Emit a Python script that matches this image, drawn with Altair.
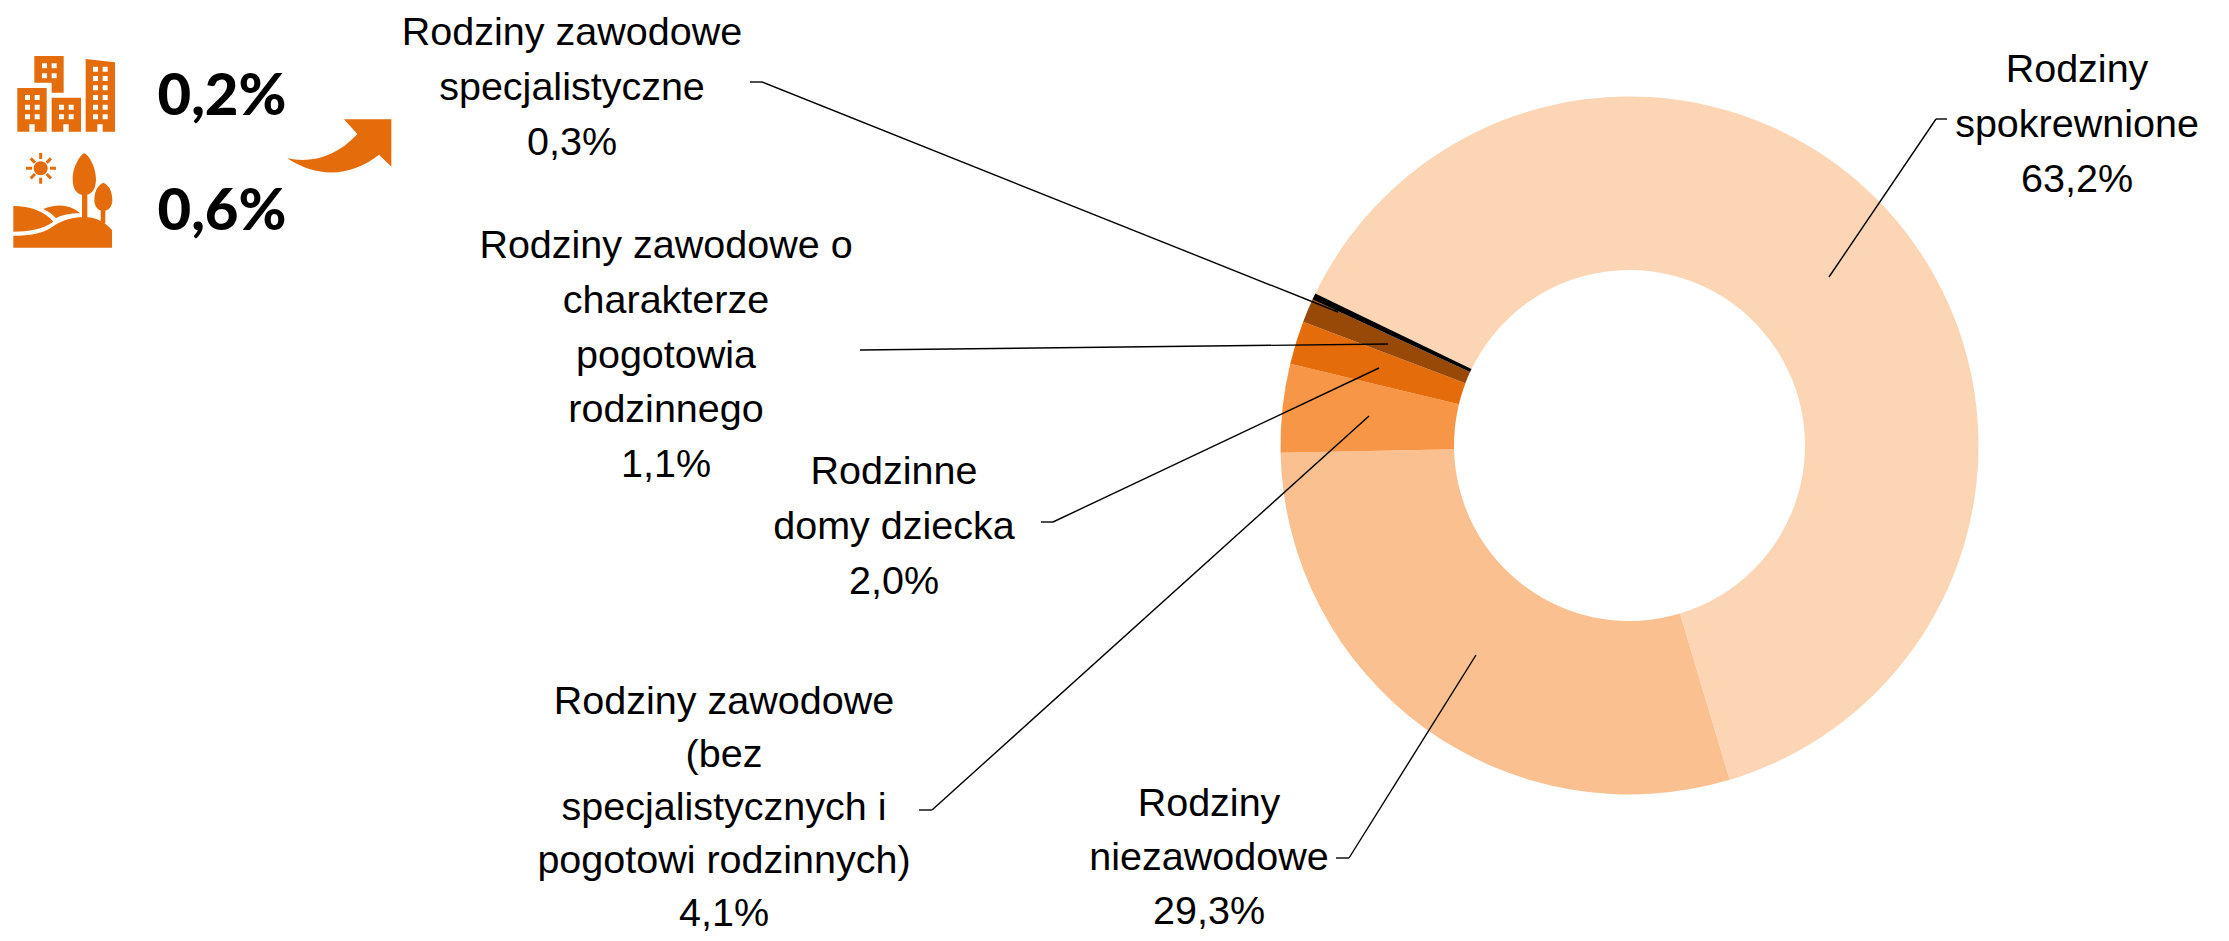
import math
import altair as alt
import pandas as pd

# ---- data ----
categories = [
    "Rodziny\nspokrewnione",
    "Rodziny\nniezawodowe",
    "Rodziny zawodowe\n(bez\nspecjalistycznych i\npogotowi rodzinnych)",
    "Rodzinne\ndomy dziecka",
    "Rodziny zawodowe o\ncharakterze\npogotowia\nrodzinnego",
    "Rodziny zawodowe\nspecjalistyczne",
]
shares = [63.2, 29.3, 4.1, 2.0, 1.1, 0.3]
colors = ["#FCD5B5", "#FAC090", "#F79646", "#E46C0A", "#984807", "#000000"]
side_values = ["0,2%", "0,6%"]

# ---- layout (page coords; chart origin is offset by the 8px body margin) ----
M = 8
CX, CY = 1629.5 - M, 445.5 - M
R_OUT, R_IN = 349, 175.5
START = math.radians(295.8)
label_pos = [(2077, 82), (1209, 816), (724, 714), (894, 484), (666, 258), (572, 45)]
label_leading = [54.8, 54, 53, 54.8, 54.8, 54.8]
leaders = [
    [(1947, 119), (1936, 119), (1829, 277)],
    [(1336, 858), (1349, 858), (1476, 655)],
    [(919, 810), (932, 810), (1369, 416)],
    [(1041, 522), (1053, 522), (1379, 368)],
    [(860, 350), (1388, 344)],
    [(750, 82), (762, 82), (1338, 312)],
]
side_pos = [(222, 115), (222, 230)]
ORANGE = "#E46C0A"
FONT = "Liberation Sans"


# ---- icon outlines, in units of the 3x zoom, turned into page pixels ----
def P(x, y):
    return f"{x / 3 - M:.2f} {y / 3 + 30 - M:.2f}"


def poly(pts):
    return "M" + " L".join(P(*p) for p in pts) + " Z "


def rect(x0, y0, x1, y1):
    return poly([(x0, y0), (x1, y0), (x1, y1), (x0, y1)])


def hole(x0, y0, x1, y1):
    return poly([(x0, y0), (x0, y1), (x1, y1), (x1, y0)])


def windows(xs, ys, s=15):
    return "".join(hole(x, y, x + s, y + s) for x in xs for y in ys)


buildings = (
    poly([(103, 78), (191, 78), (191, 188), (155, 188), (155, 158), (103, 158)])
    + windows([126, 155], [100, 130])
    + poly([(52, 174), (140, 174), (140, 305), (104, 305), (104, 283), (88, 283), (88, 305), (52, 305)])
    + windows([75, 104], [195, 224, 253])
    + poly([(155, 203), (243, 203), (243, 305), (206, 305), (206, 283), (190, 283), (190, 305), (155, 305)])
    + windows([177, 206], [224, 253])
    + poly([(257, 87), (345, 97), (345, 305), (308, 305), (308, 283), (292, 283), (292, 305), (257, 305)])
    + windows([279, 308], [110, 138, 166, 195, 224, 253])
)


def curve(*pts):
    return "C" + " ".join(P(*p) for p in pts) + " "


def circle(cx, cy, r):
    k = 0.5523 * r
    return (
        "M" + P(cx - r, cy) + " "
        + curve((cx - r, cy - k), (cx - k, cy - r), (cx, cy - r))
        + curve((cx + k, cy - r), (cx + r, cy - k), (cx + r, cy))
        + curve((cx + r, cy + k), (cx + k, cy + r), (cx, cy + r))
        + curve((cx - k, cy + r), (cx - r, cy + k), (cx - r, cy))
        + "Z "
    )


def ray(x0, y0, x1, y1, w=4.5):
    dx, dy = x1 - x0, y1 - y0
    n = math.hypot(dx, dy)
    ox, oy = -dy / n * w, dx / n * w
    return poly([(x0 + ox, y0 + oy), (x1 + ox, y1 + oy), (x1 - ox, y1 - oy), (x0 - ox, y0 - oy)])


def crown(cx, top, bottom, half):
    mid = top + (bottom - top) * 0.62
    return (
        "M" + P(cx, top) + " "
        + curve((cx + half * 0.4, top + 5), (cx + half, mid - 35), (cx + half, mid))
        + curve((cx + half, bottom - 12), (cx + half * 0.5, bottom), (cx, bottom))
        + curve((cx - half * 0.5, bottom), (cx - half, bottom - 12), (cx - half, mid))
        + curve((cx - half, mid - 35), (cx - half * 0.4, top + 5), (cx, top))
        + "Z "
    )


landscape = (
    circle(122, 415, 21)
    + ray(122, 369, 122, 387) + ray(122, 443, 122, 461)
    + ray(78, 415, 96, 415) + ray(150, 415, 168, 415)
    + ray(92, 385, 105, 398) + ray(140, 432, 153, 445)
    + ray(92, 445, 105, 432) + ray(140, 398, 153, 385)
    + crown(253, 370, 495, 35) + rect(246, 490, 262, 565)
    + crown(310, 458, 543, 27) + rect(302, 538, 316, 580)
    + "M" + P(40, 528) + " " + curve((90, 528), (135, 545), (160, 575))
    + curve((130, 597), (85, 605), (40, 605)) + "Z "
    + "M" + P(130, 537) + " " + curve((170, 518), (215, 525), (241, 550))
    + curve((210, 550), (185, 555), (168, 565)) + curve((158, 552), (145, 545), (130, 537)) + "Z "
    + "M" + P(40, 617) + " " + curve((90, 617), (130, 610), (158, 590))
    + curve((185, 570), (230, 558), (265, 562)) + curve((295, 565), (320, 582), (336, 600))
    + "L" + P(336, 653) + " L" + P(40, 653) + " Z "
)

arrow = (
    "M" + P(862, 385) + " " + curve((935, 400), (1010, 380), (1072, 312))
    + "L" + P(1032, 268) + " L" + P(1174, 268) + " L" + P(1174, 410) + " L" + P(1137, 374) + " "
    + curve((1060, 435), (960, 450), (862, 385)) + "Z "
)

# ---- chart ----
df = pd.DataFrame({"category": categories, "share": shares, "idx": range(len(shares))})
df["label"] = [f"{c}\n{s:.1f}".replace(".", ",") + "%" for c, s in zip(categories, shares)]
one = alt.Data(values=[{"a": 1}])

donut = alt.Chart(df).mark_arc(radius=R_OUT, radius2=R_IN, stroke=None).encode(
    theta=alt.Theta("share:Q", stack=True, scale=alt.Scale(domain=[0, 100], range=[START, START + 2 * math.pi])),
    color=alt.Color("category:N", scale=alt.Scale(domain=categories, range=colors), legend=None),
    order=alt.Order("idx:Q"),
    x=alt.value(CX),
    y=alt.value(CY),
)

layers = [donut]

for pts in leaders:
    for (x0, y0), (x1, y1) in zip(pts, pts[1:]):
        layers.append(
            alt.Chart(one).mark_rule(color="#000000", strokeWidth=1.4).encode(
                x=alt.value(x0 - M), x2=alt.value(x1 - M), y=alt.value(y0 - M), y2=alt.value(y1 - M)
            )
        )

for i, (x, y) in enumerate(label_pos):
    layers.append(
        alt.Chart(df.iloc[[i]]).mark_text(
            font=FONT, fontSize=39.5, lineBreak="\n", lineHeight=label_leading[i],
            align="center", baseline="alphabetic", color="#000000",
        ).encode(text="label:N", x=alt.value(x - M), y=alt.value(y - M))
    )

for v, (x, y) in zip(side_values, side_pos):
    layers.append(
        alt.Chart(alt.Data(values=[{"t": v}])).mark_text(
            font="Lato", fontSize=58, fontWeight=900, align="center",
            baseline="alphabetic", color="#000000",
        ).encode(text="t:N", x=alt.value(x - M), y=alt.value(y - M))
    )

for path in (buildings, landscape, arrow):
    layers.append(
        alt.Chart(one).mark_point(shape=path, size=4, filled=True, color=ORANGE, opacity=1, strokeWidth=0).encode(
            x=alt.value(0), y=alt.value(0)
        )
    )

chart = (
    alt.layer(*layers)
    .properties(width=2213, height=925, padding=0, autosize=alt.AutoSizeParams(type="none"))
    .configure_view(stroke=None)
)

chart.save("out.html", embed_options={"renderer": "svg", "actions": False})
